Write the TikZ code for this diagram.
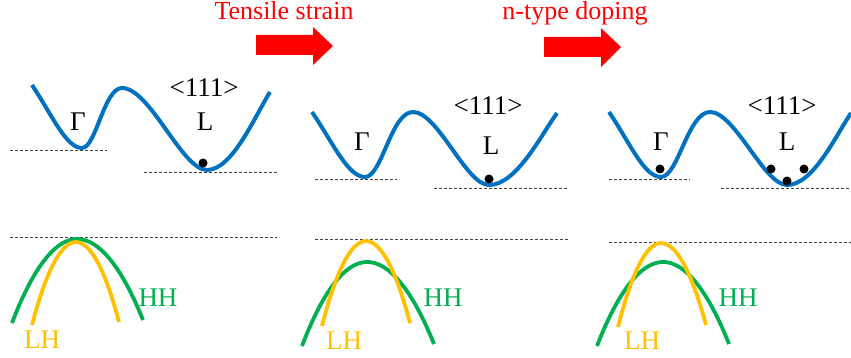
\documentclass[tikz,border=0pt]{standalone}
\usepackage{fontspec}
\setmainfont{Liberation Serif}
\definecolor{bandblue}{RGB}{0,112,192}
\definecolor{hhgreen}{RGB}{0,176,80}
\definecolor{lhyellow}{RGB}{255,192,0}
\definecolor{arrred}{RGB}{255,0,0}
\begin{document}
\begin{tikzpicture}[x=1pt,y=-1pt,
  cb/.style={bandblue, line width=4pt},
  hh/.style={hhgreen, line width=3.8pt},
  lh/.style={lhyellow, line width=3.8pt},
  lvl/.style={black!75, line width=0.9pt, dash pattern=on 3pt off 2pt},
  lbl/.style={font=\fontsize{27}{30}\selectfont, anchor=base, inner sep=0pt},
  ttl/.style={font=\fontsize{26}{30}\selectfont, text=arrred, anchor=base, inner sep=0pt},
  dot/.style={circle, fill=black, minimum size=9pt, inner sep=0pt},
  bigarrow/.style={fill=arrred}]
\useasboundingbox (0,0) rectangle (851,358);

% ---------- titles and arrows ----------
\node[ttl] (t1) at (284,20) {Tensile strain};
\node[ttl] (t2) at (575,20) {n-type doping};
\fill[bigarrow] (256,35) -- (313,35) -- (313,27) -- (333,46) -- (313,65) -- (313,55) -- (256,55) -- cycle;
\fill[bigarrow] (544,37) -- (601,37) -- (601,28) -- (621,47) -- (601,67) -- (601,57) -- (544,57) -- cycle;

% ---------- panel 1 ----------
\draw[lvl] (10,150) -- (107,150);
\draw[lvl] (144,172) -- (277,172);
\draw[lvl] (10,237) -- (277,237);
\draw[cb] (32,85) .. controls (52,115) and (66,148) .. (82,148)
  .. controls (96,148) and (104,88) .. (122,88)
  .. controls (150,88) and (182,170) .. (207,170)
  .. controls (232,170) and (254,118) .. (270,92);
\node[lbl] (g1) at (78,131) {Γ};
\node[lbl] (l1) at (205,131) {L};
\node[lbl] (k1) at (204,97) {<111>};
\node[dot] (d1) at (203,163) {};
\draw[hh] (12,323) parabola bend (77,239) (143,320);
\draw[lh] (32,325) parabola bend (76,242) (119,322);
\node[lbl, text=hhgreen] (hh1) at (158,306) {HH};
\node[lbl, text=lhyellow] (lh1) at (42,348) {LH};

% ---------- panel 2 ----------
\draw[lvl] (315,179) -- (397,179);
\draw[lvl] (434,188) -- (568,188);
\draw[lvl] (315,239) -- (568,239);
\draw[cb] (312,112) .. controls (333,143) and (348,177) .. (365,177)
  .. controls (382,177) and (391,112) .. (413,112)
  .. controls (438,112) and (466,185) .. (489,185)
  .. controls (516,185) and (540,137) .. (557,113);
\node[lbl] (g2) at (362,151) {Γ};
\node[lbl] (l2) at (491,155) {L};
\node[lbl] (k2) at (488,115) {<111>};
\node[dot] (d2) at (489,179) {};
\draw[hh] (302,346) parabola bend (367,262) (434,344);
\draw[lh] (322,326) parabola bend (366,241) (410,323);
\node[lbl, text=hhgreen] (hh2) at (443,306) {HH};
\node[lbl, text=lhyellow] (lh2) at (344,349) {LH};

% ---------- panel 3 ----------
\draw[lvl] (609,179) -- (690,179);
\draw[lvl] (721,188) -- (851,188);
\draw[lvl] (609,242) -- (851,242);
\draw[cb] (609,112) .. controls (630,143) and (644,177) .. (661,177)
  .. controls (678,177) and (688,112) .. (710,112)
  .. controls (735,112) and (764,185) .. (787,185)
  .. controls (813,185) and (835,137) .. (851,113);
\node[lbl] (g3) at (661,151) {Γ};
\node[lbl] (l3) at (787,151) {L};
\node[lbl] (k3) at (782,115) {<111>};
\node[dot] (d3a) at (660,169) {};
\node[dot] (d3b) at (771,169) {};
\node[dot] (d3c) at (787,181) {};
\node[dot] (d3d) at (804,169) {};
\draw[hh] (597,346) parabola bend (663,262) (729,344);
\draw[lh] (618,327) parabola bend (661,243) (706,325);
\node[lbl, text=hhgreen] (hh3) at (738,306) {HH};
\node[lbl, text=lhyellow] (lh3) at (642,349) {LH};
\end{tikzpicture}
\end{document}
